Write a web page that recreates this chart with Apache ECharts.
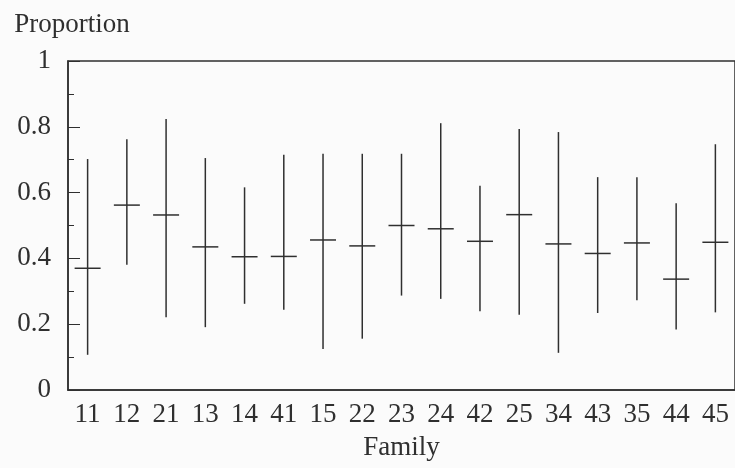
<!DOCTYPE html>
<html lang="en">
  <head>
    <meta charset="utf-8" />
  </head>
  <body style="margin: 0; background: #fbfbfb">
    <div id="container" style="width: 735px; height: 468px"></div>

    <script src="https://cdn.jsdelivr.net/npm/echarts@6/dist/echarts.min.js"></script>

    <script>
      var families = ["11","12","21","13","14","41","15","22","23","24","42","25","34","43","35","44","45"];
      var means = [0.370, 0.562, 0.532, 0.435, 0.405, 0.406, 0.456, 0.438, 0.500, 0.490, 0.452, 0.533, 0.444, 0.415, 0.447, 0.337, 0.449];
      var lows  = [0.107, 0.381, 0.221, 0.191, 0.262, 0.244, 0.125, 0.156, 0.287, 0.277, 0.239, 0.229, 0.113, 0.234, 0.273, 0.184, 0.236];
      var highs = [0.702, 0.762, 0.824, 0.705, 0.616, 0.715, 0.718, 0.718, 0.718, 0.811, 0.621, 0.793, 0.784, 0.647, 0.647, 0.568, 0.747];

      var ink = "#2f2f2f";
      var serif = "Liberation Serif";

      var data = families.map(function (f, i) {
        return [i, lows[i], means[i], highs[i]];
      });

      var chart = echarts.init(document.getElementById("container"), null, { renderer: "canvas" });

      var option = {
        backgroundColor: "#fbfbfb",
        animation: false,
        grid: {
          left: 68,
          top: 61,
          bottom: 78,
          right: -11,
          show: true,
          borderColor: ink,
          borderWidth: 1.5,
          backgroundColor: "transparent"
        },
        xAxis: {
          type: "category",
          data: families,
          name: "Family",
          nameLocation: "middle",
          nameGap: 44,
          nameTextStyle: { fontFamily: serif, fontSize: 27, color: ink },
          axisLine: { lineStyle: { color: ink, width: 1.5 } },
          axisTick: { inside: true, alignWithLabel: true, length: 5, lineStyle: { color: ink } },
          axisLabel: { fontFamily: serif, fontSize: 27, color: ink, margin: 11 },
          splitLine: { show: false }
        },
        yAxis: {
          type: "value",
          min: 0,
          max: 1,
          interval: 0.2,
          name: "Proportion",
          nameLocation: "end",
          nameGap: 23,
          nameTextStyle: { fontFamily: serif, fontSize: 27, color: ink, padding: [0, 0, 0, 8] },
          axisLine: { show: true, lineStyle: { color: ink, width: 1.5 } },
          axisTick: { show: true, inside: true, length: 12, lineStyle: { color: ink } },
          minorTick: { show: true, splitNumber: 2, length: 6, lineStyle: { color: ink } },
          axisLabel: { fontFamily: serif, fontSize: 27, color: ink, margin: 17 },
          splitLine: { show: false }
        },
        series: [
          {
            type: "custom",
            data: data,
            encode: { x: 0, y: [1, 2, 3] },
            renderItem: function (params, api) {
              var x = api.value(0);
              var lo = api.coord([x, api.value(1)]);
              var mid = api.coord([x, api.value(2)]);
              var hi = api.coord([x, api.value(3)]);
              var half = 13;
              var style = { stroke: ink, lineWidth: 1.5 };
              return {
                type: "group",
                children: [
                  { type: "line", shape: { x1: hi[0], y1: hi[1], x2: lo[0], y2: lo[1] }, style: style },
                  { type: "line", shape: { x1: mid[0] - half, y1: mid[1], x2: mid[0] + half, y2: mid[1] }, style: style }
                ]
              };
            }
          }
        ]
      };

      chart.setOption(option);
    </script>
  </body>
</html>
